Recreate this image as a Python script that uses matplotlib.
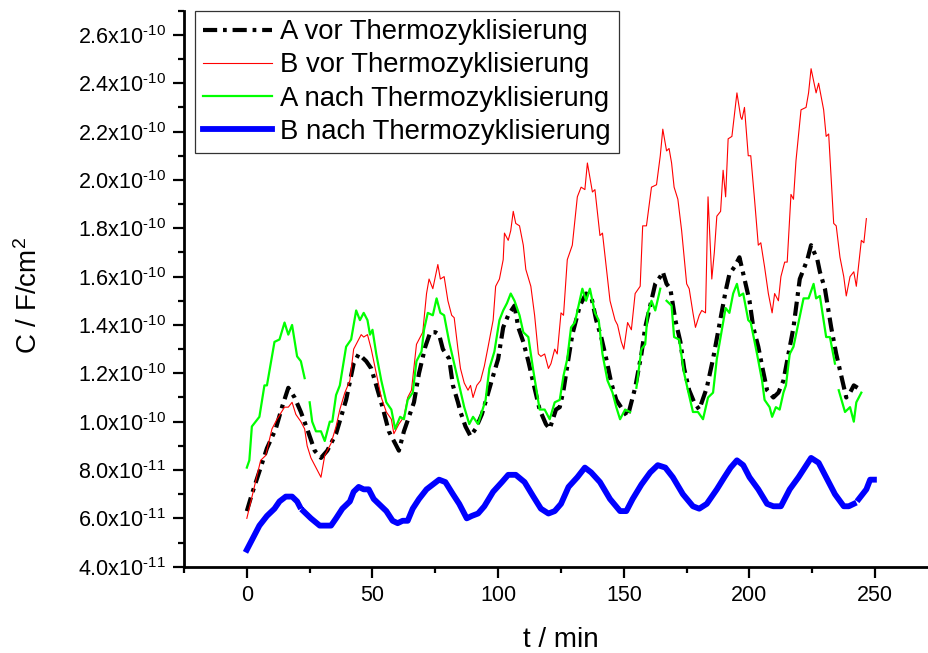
import numpy as np
import matplotlib as mpl
mpl.use("Agg")
from matplotlib import pyplot as plt
from matplotlib.ticker import MultipleLocator, FixedLocator

# values in units of 1e-11 F/cm^2, nan marks a gap in the recording
SCALE = 1e-11

t_a_vor = [0, 2, 5.5, 8, 11.5, 14, 16.5, 19, 21.5, 24, 27, 29.5, 32, 35.5, 39.5, 42.5,
           44.5, 47.5, 49.5, 51.5, 54, 56.5, 59, 60.5, 62.5, 66.5, 68.5, 71, 73, 75, 76.5,
           78, 80.5, 82, 84, 85, 87, 89, 91, 93.5, 95.5, 98, 100, 102, 104, 106.5, 108,
           110, 112, 114, 116.5, 119, 120.5, 123, 124.5, 126, 127.5, 129.5, 132.5, 135,
           137, 139, 141, 143, 145, 147, 149.5, 151.5, 152.5, 154.5, 157, 158.5, 160.5,
           162.5, 164.5, 165.5, 167, 168.5, 170.5, 172.5, 174, 176, 178, 180, 183, 185.5,
           188, 190.5, 192, 194, 196, 198, 200, 201.5, 203.5, 205, 207, 209.5, 211.5,
           213.5, 215.5, 217.5, 220, 223, 224.5, 227, 228, 230, 232.5, 234.5, 236.5,
           238.5, 240, 241.5, 243]
c_a_vor = [6.3, 7.0, 8.1, 8.9, 9.7, 10.6, 11.4, 11.0, 10.4, 9.7, 8.8, 8.5, 8.8, 9.5, 10.9,
           12.4, 12.8, 12.5, 12.2, 11.5, 10.6, 9.6, 9.1, 8.8, 9.6, 10.8, 12.0, 13.1, 13.7,
           13.7, 13.6, 13.0, 12.6, 11.5, 10.8, 10.4, 9.8, 9.4, 9.7, 10.3, 11.0, 11.9, 12.6,
           13.9, 14.4, 14.8, 13.9, 13.3, 12.5, 11.6, 10.5, 9.9, 9.7, 10.5, 10.6, 11.3,
           12.3, 13.6, 14.8, 15.3, 15.2, 14.2, 13.5, 12.6, 11.6, 10.9, 10.5, 10.2, 10.6,
           11.4, 12.8, 13.9, 14.8, 15.7, 16.0, 16.2, 15.7, 15.5, 14.2, 13.3, 12.2, 11.3,
           10.8, 10.5, 11.4, 12.6, 14.0, 15.4, 16.1, 16.4, 16.8, 15.9, 15.0, 13.9, 13.1,
           12.3, 11.3, 11.0, 11.2, 11.7, 12.8, 13.9, 15.9, 16.7, 17.3, 16.7, 16.2, 15.5,
           13.9, 12.8, 11.9, 11.0, 11.2, 11.5, 11.4]

t_b_vor = [0, 3, 5.5, 7.5, 10, 12, 15, 16.5, 18, 19.5, 21.5, 23, 24, 25.5, 27.5, 29.5, 31,
           33.5, 35.5, 37, 39, 41, 42.5, 44, 45.5, 46.5, 48, 49.5, 51.5, 53.5, 55.5, 57.5,
           58.5, 60.5, 62.5, 64, 65.5, 67.5, 68.5, 70, 71.5, 72.5, 74, 76, 77, 78.5, 80,
           81.5, 82.5, 84, 85, 86.5, 88, 89, 90, 91.5, 93, 94.5, 96, 98, 99, 100.5, 102,
           102.5, 104, 105, 106, 107, 108.5, 110, 111, 113, 114.5, 116, 117, 118.5, 120,
           121, 122.5, 123.5, 125, 126, 127.5, 129.5, 131.5, 133, 134.5, 135.5, 137.5,
           138.5, 140.5, 141.5, 143, 144.5, 146.5, 147.5, 149, 150, 151.5, 153, 154.5,
           156.5, 157.5, 159, 161, 163, 164.5, 165.5, 167, 168, 169, 170, 171.5, 173, 175,
           176, 177.5, 178.5, 180, 181, 182.5, 183.5, 185, 186, 187, 188.5, 189.5, 190.5,
           191.5, 193, 195, 196.5, 197, 198, 199.5, 200.5, 202, 203.5, 204.5, 206, 207.5,
           209, 210, 211.5, 212.5, 214, 215, 216.5, 217.5, 218.5, 220.5, 222.5, 223.5,
           224.5, 226.5, 227.5, 229.5, 230.5, 231.5, 233.5, 234.5, 236, 237.5, 238.5, 240,
           241.5, 242.5, 244.5, 245.5, 246.5]
c_b_vor = [6.0, 7.3, 8.4, 8.6, 9.7, 10.1, 10.6, 10.6, 10.8, 10.3, 10.0, 9.7, 9.0, 8.5, 8.1,
           7.7, 8.6, 9.1, 9.8, 10.5, 11.2, 11.7, 13.0, 13.3, 13.6, 13.5, 13.6, 13.0, 12.0,
           11.0, 10.4, 10.1, 9.5, 9.9, 10.2, 11.0, 11.3, 13.2, 13.4, 13.7, 15.3, 15.9, 15.5,
           16.5, 15.9, 16.0, 15.0, 14.4, 14.3, 13.0, 12.2, 11.6, 11.3, 11.5, 11.0, 11.5,
           11.7, 12.3, 13.1, 14.2, 15.6, 15.9, 16.7, 17.8, 17.5, 17.9, 18.7, 18.2, 18.1,
           17.3, 16.3, 15.6, 14.4, 12.8, 12.7, 12.8, 12.2, 12.4, 13.0, 12.8, 14.5, 14.4,
           16.7, 17.3, 19.3, 19.7, 19.6, 20.7, 19.5, 19.6, 17.7, 17.8, 16.4, 15.0, 14.2,
           14.0, 13.3, 13.0, 14.1, 13.8, 15.3, 15.6, 18.1, 18.1, 19.7, 19.8, 21.0, 22.1,
           21.2, 21.3, 20.7, 19.7, 19.2, 17.9, 15.7, 15.5, 14.5, 13.9, 14.4, 14.6, 14.5,
           19.3, 15.9, 17.0, 18.5, 18.7, 20.4, 19.3, 21.7, 21.8, 23.6, 22.6, 22.5, 23.0,
           21.0, 21.0, 19.2, 17.3, 17.4, 16.4, 15.3, 14.5, 15.3, 15.0, 16.0, 16.6, 16.6,
           19.4, 19.2, 20.8, 22.9, 23.0, 23.6, 24.6, 23.6, 24.0, 22.9, 21.8, 21.9, 18.2,
           18.1, 16.8, 16.0, 15.2, 16.0, 16.2, 15.6, 17.5, 17.4, 18.4]

t_a_nach = [0, 1, 2, 5, 7, 8, 11, 13, 15, 16.5, 18, 20, 21.5, 23, 24, 25, 26, 27.5, 29.5,
            31, 33, 34, 35.5, 37, 39.5, 41.5, 43.5, 45, 46.5, 48, 49, 50, 51.5, 53.5, 55.5,
            57.5, 59, 61, 62.5, 64, 66, 67.5, 69.5, 70.5, 72, 74, 75.5, 77, 78.5, 80.5,
            82.5, 84.5, 86.5, 88.5, 90, 92, 93.5, 95, 96.5, 98.5, 100.5, 102, 103.5, 105,
            106.5, 108.5, 110, 112, 114, 116.5, 118.5, 120.5, 122.5, 124.5, 126, 127.5, 129,
            130.5, 132, 133.5, 135, 136.5, 138.5, 140, 141.5, 143.5, 145.5, 147, 148.5,
            150.5, 152.5, 153.5, 155, 157, 158.5, 159.5, 161, 162.5, 164.5, 165.5, 167, 169,
            170, 172, 174, 175.5, 177.5, 179.5, 181.5, 183.5, 185.5, 187, 189, 190.5, 192,
            193.5, 195, 196, 197.5, 199.5, 200.5, 203, 205, 206, 208, 209, 210.5, 212,
            213.5, 214.5, 216, 217.5, 219.5, 221.5, 223.5, 225.5, 226.5, 228, 230.5, 232,
            234, 235, 235.5, 238, 240, 241.5, 242.5, 244.5]
c_a_nach = [8.1, 8.4, 9.8, 10.2, 11.5, 11.5, 13.3, 13.4, 14.1, 13.6, 14.0, 12.7, 12.5, 11.8,
            np.nan, 10.8, 10.0, 9.6, 9.6, 9.2, 10.0, 10.0, 11.1, 11.5, 13.1, 13.4, 14.6,
            14.2, 14.5, 14.2, 13.6, 13.8, 12.8, 11.7, 10.8, 10.5, 9.7, 10.2, 10.1, 10.9,
            11.2, 12.5, 12.9, 13.8, 14.5, 14.4, 15.1, 14.5, 14.4, 13.3, 12.4, 11.5, 10.6,
            9.9, 10.2, 9.9, 10.4, 10.9, 12.2, 12.9, 14.2, 14.6, 14.9, 15.3, 15.0, 14.4, 13.7,
            13.5, 12.1, 10.5, 10.5, 10.1, 10.8, 10.9, 11.9, 12.6, 13.9, 14.1, 14.8, 15.5,
            15.0, 15.5, 14.5, 14.2, 12.8, 11.7, 11.2, 10.6, 10.1, 10.5, 10.4, np.nan, 11.4,
            13.0, 13.2, 14.5, 15.0, 14.6, 15.5, np.nan, 15.0, 14.8, 13.5, 13.4, 12.0, 11.3,
            10.4, 10.4, 10.1, 11.0, 11.2, 12.6, 13.8, 14.7, 14.5, 15.3, 15.7, 15.2, 15.3,
            14.2, 14.1, 12.8, 11.7, 10.9, 10.6, 10.2, 10.6, 10.5, 11.2, 11.5, 12.8, 13.1,
            14.1, 15.1, 15.1, 15.7, 15.1, 15.2, 13.5, 13.5, 12.4, np.nan, 11.3, 10.4, 10.6,
            10.0, 10.8, 11.2]

t_b_nach = [0, 1.5, 5, 8, 11, 13, 15.5, 18, 20, 21, 21.7, 22.5, 25.5, 29, 31.5, 33.5, 35.5,
            38, 41, 42.5, 44.5, 46.5, 48.5, 50.5, 52.5, 55.5, 58, 60, 62, 64, 66, 68.5, 71.5,
            74, 76.5, 79, 82, 84.5, 87.5, 89.5, 92, 94.5, 98, 101.5, 104, 107, 110.5, 114,
            117, 120, 122.5, 125, 128, 131.5, 134.5, 137, 140.5, 144.5, 148.5, 151, 153.5,
            157, 160.5, 163.5, 166.5, 169.5, 173.5, 177.5, 180, 183, 187, 190, 192.5, 195,
            197.5, 200, 203.5, 207, 209.5, 212.5, 216, 219.5, 222, 224.5, 227.5, 230.5, 234,
            237.5, 239.5, 241.5, 242.5, 243.5, 246.5, 248, 249.5]
c_b_nach = [4.7, 5.0, 5.7, 6.1, 6.4, 6.7, 6.9, 6.9, 6.7, 6.5, np.nan, 6.3, 6.0, 5.7, 5.7,
            5.7, 6.0, 6.4, 6.7, 7.1, 7.3, 7.2, 7.2, 6.8, 6.6, 6.3, 5.9, 5.8, 5.9, 5.9, 6.4,
            6.8, 7.2, 7.4, 7.6, 7.5, 7.0, 6.6, 6.0, 6.1, 6.2, 6.5, 7.1, 7.5, 7.8, 7.8, 7.5,
            6.9, 6.4, 6.2, 6.3, 6.6, 7.3, 7.7, 8.1, 7.9, 7.5, 6.8, 6.3, 6.3, 6.8, 7.4, 7.9,
            8.2, 8.1, 7.7, 7.0, 6.5, 6.4, 6.6, 7.2, 7.7, 8.1, 8.4, 8.2, 7.7, 7.2, 6.6, 6.5,
            6.5, 7.2, 7.7, 8.1, 8.5, 8.3, 7.7, 7.0, 6.5, 6.5, 6.6, np.nan, 6.8, 7.2, 7.6, 7.6]

labels = ["A vor Thermozyklisierung", "B vor Thermozyklisierung",
          "A nach Thermozyklisierung", "B nach Thermozyklisierung"]

x_ticks = [0, 50, 100, 150, 200, 250]
y_ticks = [4e-11, 6e-11, 8e-11, 1.0e-10, 1.2e-10, 1.4e-10, 1.6e-10, 1.8e-10, 2.0e-10,
           2.2e-10, 2.4e-10, 2.6e-10]
y_tick_labels = [r"4.0x10$^{\text{-11}}$", r"6.0x10$^{\text{-11}}$", r"8.0x10$^{\text{-11}}$",
                 r"1.0x10$^{\text{-10}}$", r"1.2x10$^{\text{-10}}$", r"1.4x10$^{\text{-10}}$",
                 r"1.6x10$^{\text{-10}}$", r"1.8x10$^{\text{-10}}$", r"2.0x10$^{\text{-10}}$",
                 r"2.2x10$^{\text{-10}}$", r"2.4x10$^{\text{-10}}$", r"2.6x10$^{\text{-10}}$"]


def setup():
    plt.rcParams["font.family"] = ["Liberation Sans", "DejaVu Sans"]
    plt.rcParams["mathtext.fontset"] = "custom"
    plt.rcParams["mathtext.rm"] = "Liberation Sans"
    plt.rcParams["mathtext.it"] = "Liberation Sans:italic"
    plt.rcParams["mathtext.bf"] = "Liberation Sans:bold"
    plt.rcParams["mathtext.default"] = "regular"


def scaled(values):
    return np.array(values, dtype=float) * SCALE


def main():
    setup()
    fig = plt.figure(figsize=(9.29, 6.53), dpi=100)
    # axis runs a bit past the right edge of the picture (to t = 275)
    ax = fig.add_axes([184 / 929, 86.3 / 653, 754 / 929, 556 / 653])

    ax.plot(t_a_vor, scaled(c_a_vor), color="black", lw=3.0,
            linestyle=(0, (3.4, 1.4, 0.9, 1.4)), dash_capstyle="butt", label=labels[0])
    ax.plot(t_b_vor, scaled(c_b_vor), color="#ff0000", lw=0.8, label=labels[1])
    ax.plot(t_a_nach, scaled(c_a_nach), color="#00ff00", lw=1.6, label=labels[2])
    ax.plot(t_b_nach, scaled(c_b_nach), color="#0000ff", lw=4.2, label=labels[3])

    ax.set_xlim(-25, 275)
    ax.set_ylim(4e-11, 2.7e-10)

    ax.xaxis.set_major_locator(FixedLocator(x_ticks))
    ax.xaxis.set_minor_locator(MultipleLocator(50, offset=25))
    ax.set_yticks(y_ticks, y_tick_labels)
    ax.yaxis.set_minor_locator(MultipleLocator(2e-11, offset=1e-11))

    for side in ("top", "right"):
        ax.spines[side].set_visible(False)
    for side in ("left", "bottom"):
        ax.spines[side].set_linewidth(2.0)

    ax.tick_params(which="major", direction="out", length=8, width=1.6,
                   labelsize=15.5, pad=5)
    ax.tick_params(which="minor", direction="out", length=4.5, width=1.6)

    fig.text(561 / 929, 6 / 653, "t / min", fontsize=20, ha="center", va="baseline")
    fig.text(29 / 929, 1 - 296 / 653, r"C / F/cm$^2$", fontsize=20, rotation=90,
             ha="center", va="center")

    leg = ax.legend(loc="upper left", bbox_to_anchor=(195 / 929, 1 - 11 / 653),
                    bbox_transform=fig.transFigure, borderaxespad=0, fontsize=19.8,
                    frameon=True, fancybox=False, edgecolor="#333333", framealpha=1,
                    handlelength=2.5, handletextpad=0.3, labelspacing=0.26,
                    borderpad=0.3)
    leg.get_frame().set_linewidth(0.9)

    fig.savefig("out.png", dpi=100)


if __name__ == "__main__":
    main()
